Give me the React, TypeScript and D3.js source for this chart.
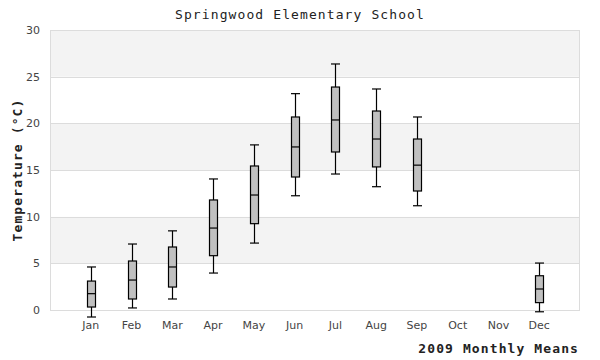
import React from "react";
import * as d3 from "d3";

const months = ["Jan", "Feb", "Mar", "Apr", "May", "Jun", "Jul", "Aug", "Sep", "Oct", "Nov", "Dec"];
const lowWhisker = [-0.75, 0.22, 1.18, 3.96, 7.17, 12.24, 14.57, 13.21, 11.17, null, null, -0.19];
const q1 = [0.32, 1.18, 2.46, 5.82, 9.25, 14.25, 16.93, 15.33, 12.75, null, null, 0.79];
const medians = [1.75, 3.21, 4.61, 8.78, 12.32, 17.47, 20.36, 18.32, 15.52, null, null, 2.25];
const q3 = [3.1, 5.25, 6.75, 11.79, 15.43, 20.68, 23.89, 21.32, 18.32, null, null, 3.67];
const highWhisker = [4.61, 7.07, 8.48, 14.04, 17.69, 23.18, 26.36, 23.68, 20.68, null, null, 5.03];
const yTicks = [0, 5, 10, 15, 20, 25, 30];
const title = "Springwood Elementary School";
const xTitle = "2009 Monthly Means";
const yTitle = "Temperature (°C)";

export default function App() {
  const W = 600, H = 360;
  const left = 50, right = 580, top = 30, bottom = 310;
  const x = d3.scalePoint<string>().domain(months).range([left, right]).padding(1);
  const y = d3.scaleLinear().domain([0, 30]).range([bottom, top]);
  const boxW = 8;
  const capW = 9;
  const bands = d3.range(0, yTicks.length - 1);
  return (
    <svg width={W} height={H} style={{ position: "absolute", left: 0, top: 0, background: "#fff" }}>
      {bands.map((i) => (
        <rect key={"b" + i} x={left} width={right - left}
          y={y(yTicks[i + 1])} height={y(yTicks[i]) - y(yTicks[i + 1])}
          fill={i % 2 === 1 ? "#f3f3f3" : "#ffffff"} />
      ))}
      {yTicks.map((t) => (
        <line key={"g" + t} x1={left} x2={right} y1={Math.round(y(t)) + 0.5} y2={Math.round(y(t)) + 0.5}
          stroke="#dcdcdc" strokeWidth={1} />
      ))}
      <line x1={left + 0.5} x2={left + 0.5} y1={top} y2={bottom} stroke="#dcdcdc" />
      <line x1={right - 0.5} x2={right - 0.5} y1={top} y2={bottom} stroke="#dcdcdc" />
      {yTicks.map((t) => (
        <text key={"yt" + t} x={40} y={y(t) + 4} textAnchor="end" fontFamily="DejaVu Sans" fontSize={11} fill="#444">{t}</text>
      ))}
      {months.map((m) => (
        <text key={"xt" + m} x={x(m)} y={329} textAnchor="middle" fontFamily="DejaVu Sans" fontSize={11} fill="#444">{m}</text>
      ))}
      {months.map((m, i) => {
        if (medians[i] == null) return null;
        const cx = Math.round(x(m)!) + 0.5;
        const lo = y(lowWhisker[i]!), hi = y(highWhisker[i]!);
        const b1 = y(q1[i]!), b3 = y(q3[i]!), md = y(medians[i]!);
        return (
          <g key={"box" + m} stroke="#000" strokeWidth={1.2}>
            <line x1={cx} x2={cx} y1={hi} y2={b3} />
            <line x1={cx} x2={cx} y1={b1} y2={lo} />
            <line x1={cx - capW / 2} x2={cx + capW / 2} y1={hi} y2={hi} />
            <line x1={cx - capW / 2} x2={cx + capW / 2} y1={lo} y2={lo} />
            <rect x={cx - boxW / 2} y={b3} width={boxW} height={b1 - b3} fill="#c0c0c0" />
            <line x1={cx - boxW / 2} x2={cx + boxW / 2} y1={md} y2={md} />
          </g>
        );
      })}
      <text x={300} y={19} textAnchor="middle" fontFamily="DejaVu Sans Mono" fontSize={13} letterSpacing={1.1} fill="#222">{title}</text>
      <text x={579} y={353} textAnchor="end" fontFamily="DejaVu Sans Mono" fontWeight="bold" fontSize={13} letterSpacing={1.1} fill="#222">{xTitle}</text>
      <text transform={`translate(22,${(top + bottom) / 2}) rotate(-90)`} textAnchor="middle" fontFamily="DejaVu Sans Mono" fontWeight="bold" fontSize={13} letterSpacing={1.1} fill="#222">{yTitle}</text>
    </svg>
  );
}
